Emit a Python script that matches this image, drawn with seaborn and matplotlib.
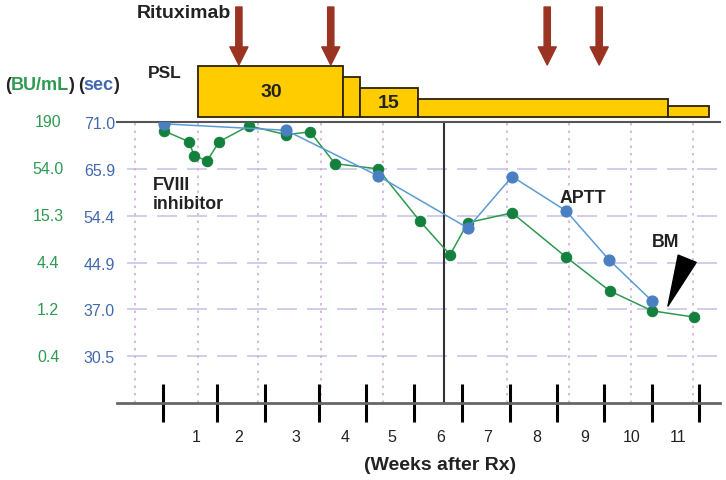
import numpy as np
import pandas as pd
import matplotlib
matplotlib.use("Agg")
import matplotlib.pyplot as plt
import seaborn as sns

# ---------------- data ----------------
bu_ticks = [0.4, 1.2, 4.4, 15.3, 54.0, 190]          # FVIII inhibitor axis (BU/mL)
sec_ticks = [30.5, 37.0, 44.9, 54.4, 65.9, 71.0]      # APTT axis (sec)

fviii_week = [0.33, 0.85, 0.96, 1.23, 1.48, 2.10, 2.87, 3.37, 3.89, 4.78,
              5.65, 6.28, 6.65, 7.57, 8.69, 9.60, 10.48, 11.35]
fviii_bu = [150, 112, 77, 67, 112, 172, 135, 146, 62, 54,
            13.3, 5.4, 12.7, 16.5, 5.1, 2.0, 1.16, 1.0]

aptt_week = [0.33, 2.87, 4.78, 6.65, 7.57, 8.69, 9.58, 10.48]
aptt_sec = [70.8, 70.1, 64.2, 51.9, 64.0, 55.6, 45.5, 38.4]

psl_edges = [1.04, 4.05, 4.41, 5.61, 10.81, 11.66]
psl_dose = [30, 23.5, 17, 10.6, 6.5]
psl_labels = ["30", "", "15", "", ""]

rituximab_week = [1.89, 3.80, 8.30, 9.38]

week_labels = [str(i) for i in range(1, 12)]
week_label_pos = [1.0, 1.89, 3.07, 4.09, 5.07, 6.09, 7.07, 8.09, 9.08, 10.06, 11.02]
week_bounds = [0.31, 1.43, 2.43, 3.56, 4.53, 5.53, 6.53, 7.53, 8.50, 9.48, 10.48, 11.45]
grid_weeks = [-0.27, 1.04, 2.29, 3.60, 4.89, 7.46, 8.75, 10.04, 11.33]
rx_week = 6.15

# ---------------- styling ----------------
sns.set_theme(style="white")
plt.rcParams["font.family"] = ["Liberation Sans", "DejaVu Sans"]

GREEN_LINE = "#2E9A4E"
GREEN_MK = "#13813D"
GREEN_TXT = "#2E9A52"
BLUE_LINE = "#5B9BD5"
BLUE_MK = "#4A7FC1"
BLUE_TXT = "#4169B0"
ARROW = "#9B3322"
GOLD = "#FFCC00"
DARK = "#222222"

levels = np.arange(1, 7)
fviii_level = np.interp(np.log(fviii_bu), np.log(bu_ticks), levels)
aptt_level = np.interp(aptt_sec, sec_ticks, levels)

df_f = pd.DataFrame({"week": fviii_week, "level": fviii_level})
df_a = pd.DataFrame({"week": aptt_week, "level": aptt_level})

W, H = 726, 481
fig = plt.figure(figsize=(W / 100, H / 100), dpi=100)
ax = fig.add_axes([117 / W, 1 - 404 / H, 603 / W, 281 / H])
axt = fig.add_axes([117 / W, 1 - 118 / H, 603 / W, 118 / H])

XL = (-0.644, 11.892)

# ---------------- main panel ----------------
ax.set_xlim(*XL)
ax.set_ylim(0, 6)
ax.grid(False)

for lvl in levels[:-1]:
    ax.axhline(lvl, xmin=0.017, xmax=1, color="#C9C5E6", lw=1.2,
               ls=(0, (12, 6)), zorder=0)
ax.vlines(grid_weeks, 0, 6, colors="#D4AEDB", linestyles=(0, (1.5, 3)),
          lw=1.2, zorder=0)
ax.axvline(rx_week, color="#333333", lw=1.5, zorder=1)

sns.lineplot(data=df_f, x="week", y="level", ax=ax, color=GREEN_LINE, lw=1.1,
             marker="o", markersize=7.5, markerfacecolor=GREEN_MK,
             markeredgecolor=GREEN_MK, sort=False, zorder=3)
sns.lineplot(data=df_a, x="week", y="level", ax=ax, color=BLUE_LINE, lw=1.1,
             marker="o", markersize=8, markerfacecolor=BLUE_MK,
             markeredgecolor=BLUE_MK, sort=False, zorder=4)
ax.set_xlabel("")
ax.set_ylabel("")

for s in ("left", "right"):
    ax.spines[s].set_visible(False)
ax.spines["bottom"].set_color("#666666")
ax.spines["bottom"].set_linewidth(2)
ax.spines["top"].set_color("#555555")
ax.spines["top"].set_linewidth(1.5)

ax.set_xticks(week_label_pos)
ax.set_xticklabels(week_labels)
ax.set_xticks(week_bounds, minor=True)
ax.tick_params(axis="x", which="major", length=0, pad=19, labelsize=11.5,
               labelcolor=DARK)
ax.tick_params(axis="x", which="minor", bottom=True, length=28, width=2.2,
               direction="inout", color="black")

ax.set_yticks(levels)
ax.set_yticklabels([f"{v:.1f}" for v in sec_ticks])
ax.tick_params(axis="y", length=0, pad=1.5, labelsize=11.5, labelcolor=BLUE_TXT)
for lvl, v in zip(levels, bu_ticks):
    lab = f"{v:.0f}" if v >= 100 else f"{v:.1f}"
    ax.text(-0.114, lvl, lab, transform=ax.get_yaxis_transform(), ha="center",
            va="center", color=GREEN_TXT, fontsize=11.5)

ax.text(0.10, 4.85, "FVIII\ninhibitor", ha="left", va="top", fontsize=12.8,
        fontweight="bold", color=DARK, linespacing=1.15)
ax.text(9.04, 4.38, "APTT", ha="center", va="center", fontsize=12.8,
        fontweight="bold", color=DARK)
ax.text(10.77, 3.44, "BM", ha="center", va="center", fontsize=12.8,
        fontweight="bold", color=DARK)
ax.annotate("", xy=(10.81, 2.07), xytext=(11.21, 3.08),
            arrowprops=dict(arrowstyle="wedge,tail_width=14,shrink_factor=0.5",
                            mutation_scale=1, color="black", shrinkA=0, shrinkB=0))

ax.set_xlabel("(Weeks after Rx)", fontsize=14, fontweight="bold", color=DARK)
ax.xaxis.set_label_coords((440 - 117) / 603, (404 - 457) / 281)

# ---------------- top panel: PSL and Rituximab ----------------
axt.set_xlim(*XL)
axt.set_ylim(0, 118 / 1.7)
axt.axis("off")
widths = np.diff(psl_edges)
axt.bar(psl_edges[:-1], psl_dose, width=widths, align="edge", color=GOLD,
        edgecolor="#2B2200", lw=1.3, clip_on=False)
for left, w, h, lab in zip(psl_edges[:-1], widths, psl_dose, psl_labels):
    if lab:
        axt.text(left + w / 2 if lab == "15" else 2.56, h / 2, lab,
                 ha="center", va="center", fontsize=14, fontweight="bold",
                 color=DARK)

for w in rituximab_week:
    axt.annotate("", xy=(w, 30.6), xytext=(w, 64.7),
                 arrowprops=dict(arrowstyle="simple,head_length=13,head_width=13,tail_width=4.5",
                                 mutation_scale=1, color=ARROW, shrinkA=0, shrinkB=0))

axt.text(0.75, 61.2, "Rituximab", ha="center", va="center", fontsize=14,
         fontweight="bold", color=DARK)
axt.text(0.35, 25.9, "PSL", ha="center", va="center", fontsize=12.5,
         fontweight="bold", color=DARK)

# header "(BU/mL) (sec)"
parts = [("(", DARK, 0), ("BU/mL", GREEN_TXT, 0), (")", DARK, -0.8),
         ("(", DARK, 3.0), ("sec", BLUE_TXT, 0), (")", DARK, -0.8)]
prev = fig.text(5 / W, 1 - 86 / H, parts[0][0], color=parts[0][1], fontsize=13,
                fontweight="bold", ha="left", va="center")
for txt, col, off in parts[1:]:
    prev = ax.annotate(txt, xy=(1, 0.5), xycoords=prev, xytext=(off, 0),
                       textcoords="offset points", color=col, fontsize=13,
                       fontweight="bold", ha="left", va="center",
                       annotation_clip=False)

fig.savefig("out.png", dpi=100)
